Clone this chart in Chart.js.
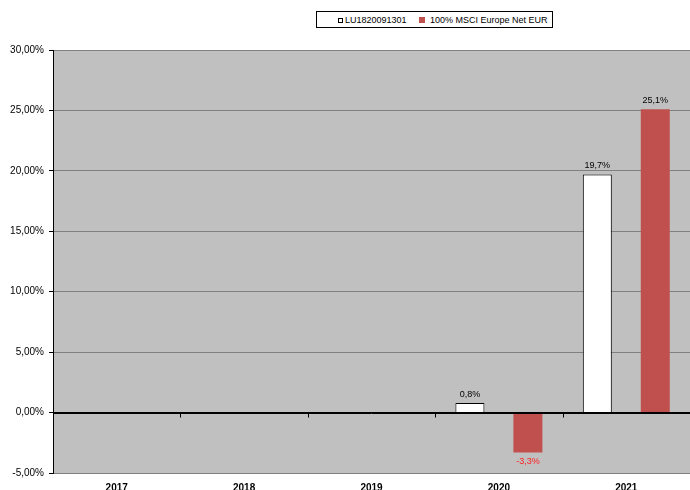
<!DOCTYPE html>
<html>
<head>
<meta charset="utf-8">
<script src="https://cdn.jsdelivr.net/npm/chart.js@4.4.0/dist/chart.umd.min.js"></script>
<style>
  html, body { margin: 0; padding: 0; background: #fff; }
  #wrap { position: relative; width: 690px; height: 490px; }
  #legend {
    position: absolute; left: 316px; top: 11px; width: 235px; height: 15px;
    border: 1px solid #000; background: #fff;
    font: 9px "Liberation Sans", Arial, sans-serif; color: #000;
    display: flex; align-items: center;
  }
  #legend .item { display: flex; align-items: center; position: absolute; top: 3px; }
  #legend .sw { width: 5px; height: 5px; margin-right: 2px; box-sizing: border-box; }
</style>
</head>
<body>
<div id="wrap">
  <canvas id="chart" width="690" height="490"></canvas>
  <div id="legend"></div>
</div>
<script>
// ---- data ----
const years = ['2017', '2018', '2019', '2020', '2021'];
const seriesNames = ['LU1820091301', '100% MSCI Europe Net EUR'];
const fundValues = [null, null, null, 0.8, 19.7];
const indexValues = [null, null, null, -3.3, 25.1];
const yTicks = [-5, 0, 5, 10, 15, 20, 25, 30];

const RED = '#C0504D';
const fmtPct = (v, d) => v.toFixed(d).replace('.', ',') + '%';

// ---- legend (html) ----
const legend = document.getElementById('legend');
legend.innerHTML = `
  <div class="item" style="left:21px"><span class="sw" style="background:#fff;border:1px solid #000"></span>${seriesNames[0]}</div>
  <div class="item" style="left:102px"><span class="sw" style="background:${RED};width:6px;height:6px;margin-right:5px"></span>${seriesNames[1]}</div>`;

// ---- plugins ----
const plotBg = {
  id: 'plotBg',
  beforeDraw(chart) {
    const { ctx, chartArea: a } = chart;
    ctx.save();
    ctx.fillStyle = '#C0C0C0';
    ctx.fillRect(a.left, a.top, a.right - a.left, a.bottom - a.top);
    ctx.restore();
  }
};

const zeroLine = {
  id: 'zeroLine',
  afterDatasetsDraw(chart) {
    const { ctx, chartArea: a, scales } = chart;
    const y0 = Math.round(scales.y.getPixelForValue(0)) + 0.5;
    ctx.save();
    ctx.strokeStyle = '#000';
    ctx.lineWidth = 1;
    ctx.beginPath();
    ctx.moveTo(a.left, y0);
    ctx.lineTo(a.right, y0);
    const step = (a.right - a.left) / years.length;
    for (let i = 1; i < years.length; i++) {
      const x = Math.round(a.left + step * i) + 0.5;
      ctx.moveTo(x, y0);
      ctx.lineTo(x, y0 + 4);
    }
    ctx.stroke();
    ctx.restore();
  }
};

const valueLabels = {
  id: 'valueLabels',
  afterDatasetsDraw(chart) {
    const { ctx } = chart;
    ctx.save();
    ctx.font = '9px "Liberation Sans", Arial, sans-serif';
    ctx.textAlign = 'center';
    chart.data.datasets.forEach((ds, di) => {
      chart.getDatasetMeta(di).data.forEach((el, i) => {
        const v = ds.data[i];
        if (v === null) return;
        if (v >= 0) {
          ctx.fillStyle = '#000';
          ctx.textBaseline = 'bottom';
          ctx.fillText(fmtPct(v, 1), el.x, el.y - 4);
        } else {
          ctx.fillStyle = '#FF2020';
          ctx.textBaseline = 'top';
          ctx.fillText(fmtPct(v, 1), el.x, el.y + 5);
        }
      });
    });
    ctx.restore();
  }
};

// ---- chart ----
new Chart(document.getElementById('chart'), {
  type: 'bar',
  data: {
    labels: years,
    datasets: [{
      label: seriesNames[0],
      data: fundValues,
      backgroundColor: '#FFFFFF',
      borderColor: '#000000',
      borderWidth: 1,
      categoryPercentage: 0.91,
      barPercentage: 0.5,
    }, {
      label: seriesNames[1],
      data: indexValues,
      backgroundColor: RED,
      borderWidth: 0,
      categoryPercentage: 0.91,
      barPercentage: 0.5,
    }]
  },
  options: {
    responsive: false,
    animation: false,
    layout: { padding: { top: 50, right: 0, left: 0, bottom: 0 } },
    plugins: { legend: { display: false }, tooltip: { enabled: false } },
    scales: {
      x: {
        grid: { display: false, drawTicks: false },
        border: { display: false },
        ticks: { color: '#000', padding: 9, font: { family: '"Liberation Sans", Arial', size: 10, weight: 'bold' } },
        afterFit: (s) => { s.height = 17; }
      },
      y: {
        min: -5, max: 30,
        afterBuildTicks: (s) => { s.ticks = yTicks.map(v => ({ value: v })); },
        grid: {
          color: (c) => c.tick && c.tick.value === 0 ? '#000' : '#808080',
          tickColor: '#000', tickLength: 4, lineWidth: 1
        },
        border: { display: true, color: '#000', width: 1 },
        ticks: {
          color: '#000', padding: 5,
          font: { family: '"Liberation Sans", Arial', size: 10 },
          callback: (v) => fmtPct(v, 2)
        },
        afterFit: (s) => { s.width = 53; }
      }
    }
  },
  plugins: [plotBg, zeroLine, valueLabels]
});
</script>
</body>
</html>
